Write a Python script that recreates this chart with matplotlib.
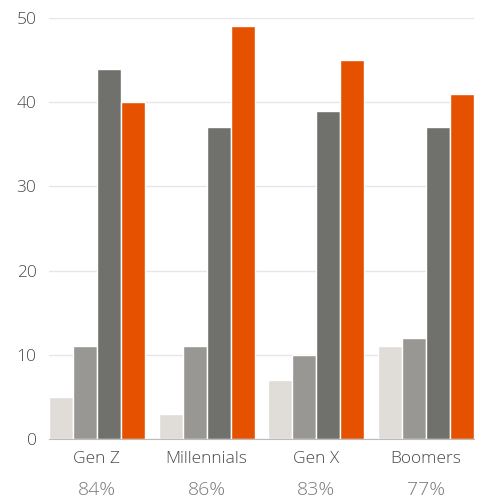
import matplotlib.pyplot as plt
import numpy as np

plt.rcParams['font.family'] = ['Open Sans', 'DejaVu Sans']
plt.rcParams['font.weight'] = 'light'

groups = ['Gen Z', 'Millennials', 'Gen X', 'Boomers']
shares = ['84%', '86%', '83%', '77%']
s1 = [5, 3, 7, 11]
s2 = [11, 11, 10, 12]
s3 = [44, 37, 39, 37]
s4 = [40, 49, 45, 41]

colors = ['#e0ddd8', '#989793', '#70706c', '#e65100']

fig = plt.figure(figsize=(4.82, 4.98), dpi=100)
ax = fig.add_axes([49 / 482, 59 / 498, 425 / 482, 421 / 498])

x = np.arange(len(groups))
gw = 0.875
bw = gw / 4
for i, vals in enumerate([s1, s2, s3, s4]):
    ax.bar(x - gw / 2 + bw * (i + 0.5), vals, bw, color=colors[i],
           edgecolor='white', linewidth=1, zorder=3)

ax.set_xlim(-gw / 2, len(groups) - 1 + gw / 2)
ax.set_ylim(0, 50)
ax.set_yticks([0, 10, 20, 30, 40, 50])
ax.grid(axis='y', color='#e6e6e6', linewidth=1, zorder=0)
for s in ['top', 'right', 'left']:
    ax.spines[s].set_visible(False)
ax.spines['bottom'].set_color('#bbbbbb')
ax.spines['bottom'].set_zorder(4)
ax.tick_params(axis='y', length=0, pad=9, labelsize=12.5, labelcolor='#4a4a4a')
ax.tick_params(axis='x', length=0, pad=8.5, labelsize=12.5, labelcolor='#4a4a4a')
ax.set_xticks(x)
ax.set_xticklabels(groups)

for xi, p in zip(x, shares):
    ax.annotate(p, xy=(xi, 0), xycoords='data', xytext=(0, -36.5),
                textcoords='offset points', ha='center', va='center',
                fontsize=14, color='#7a7a7a', annotation_clip=False)

fig.savefig('out.png', dpi=100)
